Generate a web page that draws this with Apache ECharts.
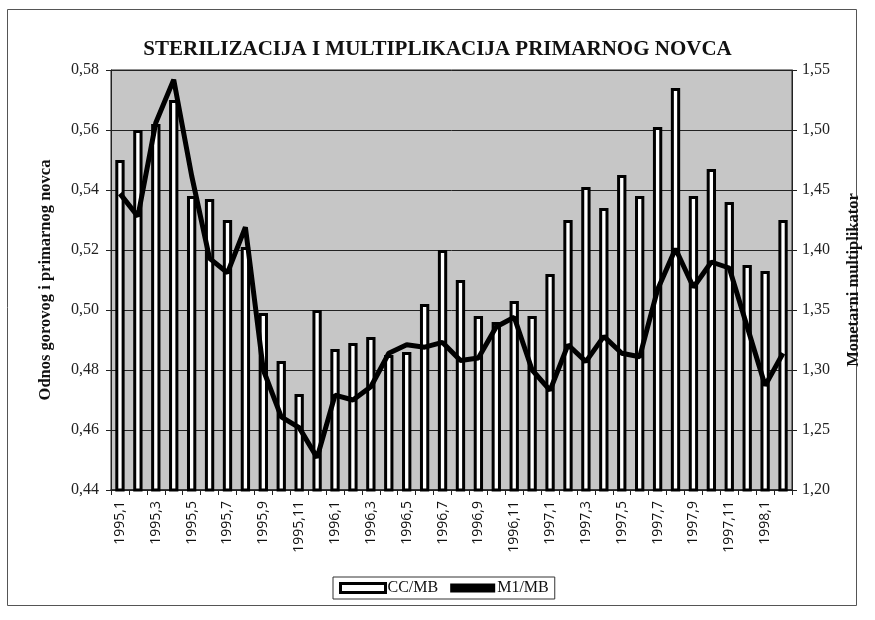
<!DOCTYPE html>
<html>
<head>
<meta charset="utf-8">
<script src="https://cdn.jsdelivr.net/npm/echarts@6/dist/echarts.min.js"></script>
<style>html,body{margin:0;padding:0;background:#fff}#c{width:875px;height:620px}</style>
</head>
<body>
<div id="c"></div>
<script>
const categories = [
  "1995,1","1995,2","1995,3","1995,4","1995,5","1995,6","1995,7","1995,8","1995,9","1995,10","1995,11","1995,12",
  "1996,1","1996,2","1996,3","1996,4","1996,5","1996,6","1996,7","1996,8","1996,9","1996,10","1996,11","1996,12",
  "1997,1","1997,2","1997,3","1997,4","1997,5","1997,6","1997,7","1997,8","1997,9","1997,10","1997,11","1997,12",
  "1998,1","1998,2"
];
const ccMB = [
  0.550,0.560,0.562,0.570,0.538,0.537,0.530,0.521,0.499,0.483,0.472,0.500,
  0.487,0.489,0.491,0.485,0.486,0.502,0.520,0.510,0.498,0.496,0.503,0.498,
  0.512,0.530,0.541,0.534,0.545,0.538,0.561,0.574,0.538,0.547,0.536,0.515,
  0.513,0.530
];
const m1MB = [
  1.447,1.428,1.506,1.542,1.462,1.393,1.381,1.419,1.300,1.261,1.252,1.227,
  1.279,1.275,1.286,1.314,1.321,1.319,1.323,1.308,1.310,1.336,1.344,1.300,
  1.283,1.321,1.307,1.328,1.314,1.311,1.367,1.401,1.369,1.390,1.385,1.336,
  1.287,1.314
];
const leftTicks = {min:0.44, max:0.58, interval:0.02};
const rightTicks = {min:1.20, max:1.55, interval:0.05};

const chart = echarts.init(document.getElementById('c'), null, {renderer:'canvas'});
const serif = 'Liberation Serif';
chart.setOption({
  animation:false,
  backgroundColor:'#fff',
  title:{
    text:'STERILIZACIJA I MULTIPLIKACIJA PRIMARNOG NOVCA',
    left:'center', top:34,
    textStyle:{fontFamily:serif, fontWeight:'bold', fontSize:21, color:'#111'}
  },
  graphic:[{
    type:'rect', shape:{x:7.5,y:9.5,width:849,height:596},
    style:{fill:'none', stroke:'#555', lineWidth:1}, silent:true, z:-10
  }],
  legend:{
    left:333, top:577, width:260,
    itemGap:12, itemWidth:45, itemHeight:9,
    padding:[3,6,3,6],
    borderColor:'#333', borderWidth:1, backgroundColor:'#fff',
    textStyle:{fontFamily:serif, fontSize:16, color:'#111', padding:[0,0,0,-3]},
    data:[
      {name:'CC/MB', icon:'rect', itemStyle:{color:'#fff', borderColor:'#000', borderWidth:3}},
      {name:'M1/MB', icon:'rect', itemStyle:{color:'#000', borderWidth:0}}
    ]
  },
  grid:{left:111, right:83, top:70, bottom:130, show:true, backgroundColor:'#c6c6c6', borderColor:'#222', borderWidth:1},
  xAxis:{
    type:'category', data:categories, boundaryGap:true,
    axisLine:{lineStyle:{color:'#222', width:1.5}},
    axisTick:{show:true, interval:0, length:5, lineStyle:{color:'#222'}},
    axisLabel:{interval:1, rotate:90, fontFamily:'Open Sans', fontSize:14, color:'#111', margin:11}
  },
  yAxis:[{
    type:'value', min:leftTicks.min, max:leftTicks.max, interval:leftTicks.interval,
    name:'Odnos gorovog i primarnog novca', nameLocation:'middle', nameRotate:90, nameGap:57,
    nameTextStyle:{fontFamily:serif, fontWeight:'bold', fontSize:16.5, color:'#111'},
    axisLine:{show:true, lineStyle:{color:'#222'}},
    axisTick:{show:true, length:5, inside:false, lineStyle:{color:'#222'}},
    axisLabel:{fontFamily:serif, fontSize:16, color:'#222', margin:12,
      formatter:v=>v.toFixed(2).replace('.',',')},
    splitLine:{show:true, lineStyle:{color:'#222', width:1}}
  },{
    type:'value', min:rightTicks.min, max:rightTicks.max, interval:rightTicks.interval,
    name:'Monetarni multiplikator', nameLocation:'middle', nameRotate:90, nameGap:53,
    nameTextStyle:{fontFamily:serif, fontWeight:'bold', fontSize:16.5, color:'#111'},
    axisLine:{show:true, lineStyle:{color:'#222'}},
    axisTick:{show:true, length:5, lineStyle:{color:'#222'}},
    axisLabel:{fontFamily:serif, fontSize:16, color:'#222', margin:10,
      formatter:v=>v.toFixed(2).replace('.',',')},
    splitLine:{show:false}
  }],
  series:[{
    name:'CC/MB', type:'bar', yAxisIndex:0, data:ccMB, barWidth:'52%',
    itemStyle:{color:'#fff', borderColor:'#000', borderWidth:3}
  },{
    name:'M1/MB', type:'line', yAxisIndex:1, data:m1MB, symbol:'none',
    lineStyle:{color:'#000', width:5}, z:5
  }]
});
</script>
</body>
</html>
